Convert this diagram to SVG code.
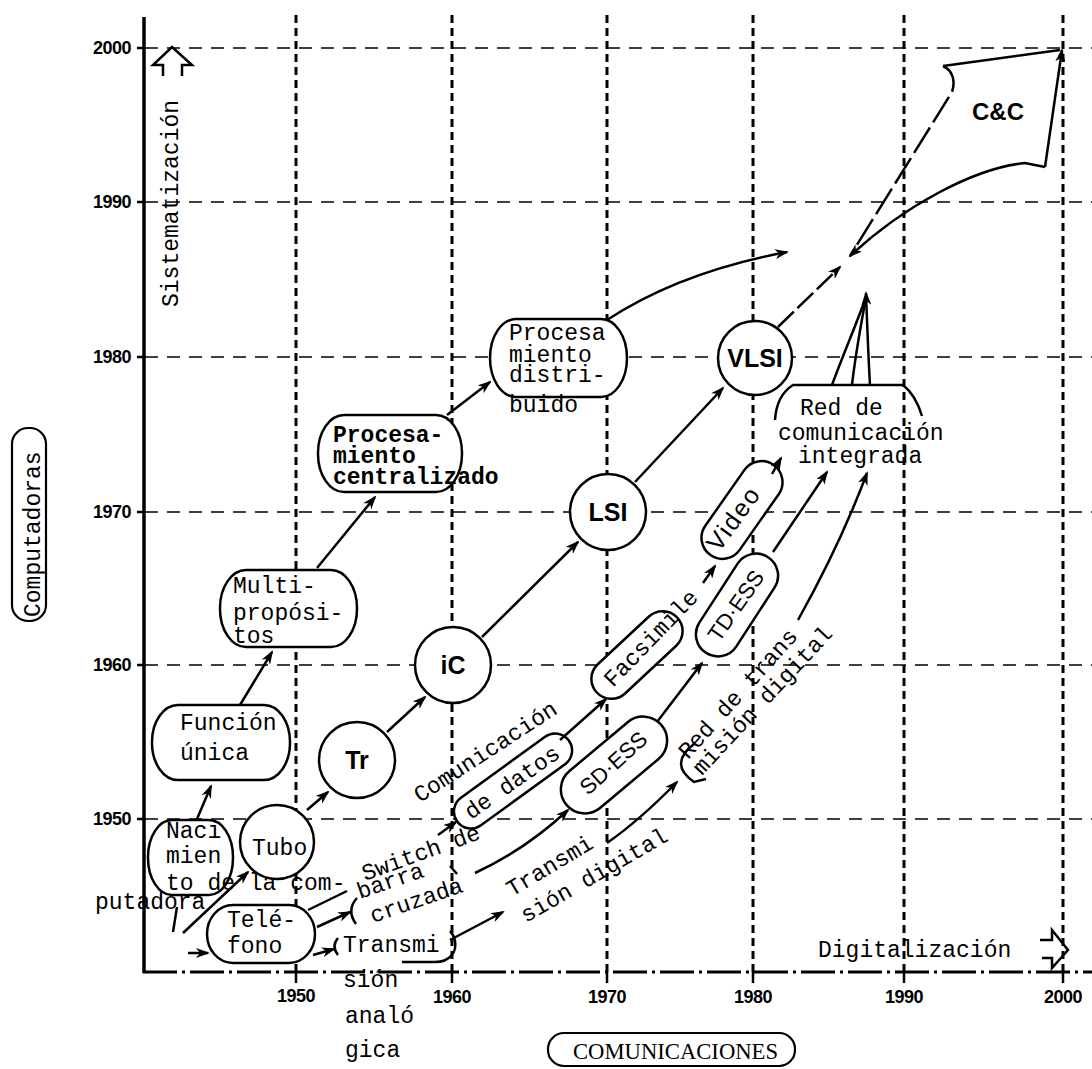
<svg xmlns="http://www.w3.org/2000/svg" width="1092" height="1069" viewBox="0 0 1092 1069">
<defs>
<style>
.gv{stroke:#000;stroke-width:3;stroke-dasharray:8 5;fill:none}
.gh{stroke:#000;stroke-width:1.6;stroke-dasharray:13 9;fill:none}
.node{fill:#fff;stroke:#000;stroke-width:2.5}
.ln{fill:none;stroke:#000;stroke-width:2.5}
.arr{marker-end:url(#ah)}
.tw{font-family:'Liberation Mono','Courier New',monospace;font-size:23px;fill:#000}
.sn{font-family:'Liberation Sans',Arial,sans-serif;fill:#000}
.ax{font-family:'Liberation Sans',Arial,sans-serif;font-size:18px;font-weight:bold;letter-spacing:-0.5px;fill:#000}
.big{font-family:'Liberation Sans',Arial,sans-serif;font-size:25px;font-weight:bold;text-anchor:middle;fill:#000}
</style>
<marker id="ah" viewBox="0 0 14 10" refX="12" refY="5" markerWidth="14" markerHeight="10" markerUnits="userSpaceOnUse" orient="auto"><path d="M0,0 L14,5 L0,10 L4,5 z" fill="#000"/></marker>
</defs>
<rect width="1092" height="1069" fill="#fff"/>

<g id="grid">
<line class="gv" x1="296" y1="15" x2="296" y2="972"/>
<line class="gv" x1="452" y1="15" x2="452" y2="972"/>
<line class="gv" x1="607" y1="15" x2="607" y2="972"/>
<line class="gv" x1="753" y1="15" x2="753" y2="972"/>
<line class="gv" x1="904" y1="15" x2="904" y2="972"/>
<line class="gv" x1="1063" y1="15" x2="1063" y2="972"/>
<line class="gh" x1="145" y1="48" x2="1092" y2="48"/>
<line class="gh" x1="145" y1="202" x2="1092" y2="202"/>
<line class="gh" x1="145" y1="357" x2="1092" y2="357"/>
<line class="gh" x1="145" y1="512" x2="1092" y2="512"/>
<line class="gh" x1="145" y1="665" x2="1092" y2="665"/>
<line class="gh" x1="145" y1="819" x2="1092" y2="819"/>
</g>

<g id="axes">
<line x1="144" y1="17" x2="144" y2="973" stroke="#000" stroke-width="3.5"/>
<line x1="143" y1="972" x2="1092" y2="972" stroke="#000" stroke-width="3" stroke-dasharray="34 5 3 5"/>
<g stroke="#000" stroke-width="2.5">
<line x1="137" y1="48" x2="144" y2="48"/><line x1="137" y1="202" x2="144" y2="202"/>
<line x1="137" y1="357" x2="144" y2="357"/><line x1="137" y1="512" x2="144" y2="512"/>
<line x1="137" y1="665" x2="144" y2="665"/><line x1="137" y1="819" x2="144" y2="819"/>
<line x1="296" y1="972" x2="296" y2="983"/><line x1="452" y1="972" x2="452" y2="983"/>
<line x1="607" y1="972" x2="607" y2="983"/><line x1="753" y1="972" x2="753" y2="983"/>
<line x1="904" y1="972" x2="904" y2="983"/><line x1="1063" y1="972" x2="1063" y2="983"/>
</g>
<g class="ax" text-anchor="end">
<text x="131" y="54">2000</text><text x="131" y="208">1990</text><text x="131" y="363">1980</text>
<text x="131" y="518">1970</text><text x="131" y="671">1960</text><text x="131" y="825">1950</text>
</g>
<g class="ax" text-anchor="middle">
<text x="296" y="1002">1950</text><text x="452" y="1003">1960</text><text x="607" y="1003">1970</text>
<text x="753" y="1003">1980</text><text x="904" y="1003">1990</text><text x="1063" y="1003">2000</text>
</g>
<text class="tw" font-size="24" transform="translate(178,307) rotate(-90)">Sistematización</text>
<path class="ln" d="M163,76 L163,65 L153,65 L172,47 L192,65 L182,65 L182,76"/>
<rect x="12" y="428" width="34" height="193" rx="16" fill="none" stroke="#000" stroke-width="2.2"/>
<text class="tw" font-size="25" transform="translate(40,617) rotate(-90)">Computadoras</text>
<text class="tw" font-size="24" x="818" y="957">Digitalización</text>
<path class="ln" d="M1040,940 L1052,940 L1052,930 L1068,950 L1052,968 L1052,958 L1042,958"/>
<rect x="548" y="1033" width="247" height="33" rx="16" fill="none" stroke="#000" stroke-width="2.2"/>
<text x="573" y="1059" font-family="'Liberation Serif','Times New Roman',serif" font-size="23" textLength="205" lengthAdjust="spacingAndGlyphs">COMUNICACIONES</text>
</g>

<g id="n-nacimiento">
<rect class="node" x="148" y="820" width="85" height="75" rx="24" ry="37"/>
<text class="tw" x="166" y="838">Naci</text>
<text class="tw" x="166" y="863">mien</text>
<text class="tw" x="166" y="890">to de la com-</text>
<text class="tw" x="95" y="909">putadora</text>
</g>
<g id="n-funcion">
<rect class="node" x="152" y="705" width="138" height="75" rx="26" ry="37"/>
<text class="tw" x="180" y="730">Función</text>
<text class="tw" x="180" y="760">única</text>
</g>
<g id="n-multi">
<rect class="node" x="220" y="570" width="137" height="77" rx="26" ry="38"/>
<text class="tw" x="233" y="593">Multi-</text>
<text class="tw" x="233" y="620">propósi-</text>
<text class="tw" x="233" y="643">tos</text>
</g>
<g id="n-centralizado">
<rect class="node" x="318" y="415" width="144" height="77" rx="26" ry="38"/>
<text class="tw" font-size="24" font-weight="bold" x="333" y="442">Procesa-</text>
<text class="tw" font-size="24" font-weight="bold" x="333" y="463">miento</text>
<text class="tw" font-size="24" font-weight="bold" x="333" y="484">centralizado</text>
</g>
<g id="n-distribuido">
<rect class="node" x="490" y="319" width="137" height="78" rx="26" ry="39"/>
<text class="tw" x="509" y="340">Procesa</text>
<text class="tw" x="509" y="362">miento</text>
<text class="tw" x="509" y="382">distri-</text>
<text class="tw" x="509" y="412">buido</text>
</g>
<g id="n-tubo">
<circle class="node" cx="277" cy="842" r="37"/>
<text class="tw" x="252" y="855">Tubo</text>
</g>
<g id="n-tr">
<circle class="node" cx="357" cy="760" r="38"/>
<text class="big" x="357" y="769">Tr</text>
</g>
<g id="n-ic">
<circle class="node" cx="453" cy="665" r="38"/>
<text class="big" x="453" y="674">iC</text>
</g>
<g id="n-lsi">
<circle class="node" cx="608" cy="512" r="38"/>
<text class="big" x="608" y="521">LSI</text>
</g>
<g id="n-vlsi">
<circle class="node" cx="755" cy="358" r="37"/>
<text class="big" x="755" y="367">VLSI</text>
</g>
<g id="n-cc">
<path class="ln" stroke-width="1.6" d="M943,66 L1060,50"/>
<path class="ln" stroke-dasharray="30 6" d="M943,66 C952,70 956,80 952,92 L850,256"/>
<path class="ln arr" d="M1045,167 L1025,163 C975,168 905,205 850,256"/>
<path class="ln arr" d="M1045,167 L1062,50"/>
<text x="972" y="120" font-family="'Liberation Sans',Arial,sans-serif" font-size="24" font-weight="bold">C&amp;C</text>
</g>
<g id="n-telefono">
<rect class="node" x="207" y="905" width="108" height="58" rx="26" ry="29"/>
<text class="tw" x="227" y="927">Telé-</text>
<text class="tw" x="227" y="953">fono</text>
</g>
<g id="n-tanalogica">
<path class="ln" d="M338,938 Q331,946 338,955"/>
<path class="ln" d="M402,962 L435,962 C450,962 457,952 455,941 C454,936 452,933 450,931"/>
<text class="tw" x="343" y="952">Transmi</text>
<text class="tw" x="343" y="987">sión</text>
<text class="tw" x="345" y="1023">analó</text>
<text class="tw" x="345" y="1057">gica</text>
</g>
<g id="n-switch">
<path class="ln" d="M357,898 Q346,910 356,924"/>
<line class="ln" x1="450" y1="866" x2="457" y2="874"/>
<text class="tw" transform="translate(365,881) rotate(-20)">Switch de</text>
<text class="tw" transform="translate(360,899) rotate(-19)">barra</text>
<text class="tw" transform="translate(373,923) rotate(-19)">cruzada</text>
</g>
<g id="n-comdatos">
<rect class="node" x="-69" y="-17" width="138" height="34" rx="17" transform="translate(513,781) rotate(-36)"/>
<text class="tw" transform="translate(420,803) rotate(-33)">Comunicación</text>
<text class="tw" transform="translate(471,820) rotate(-35)">de datos</text>
</g>
<g id="n-sdess">
<rect class="node" x="-62" y="-24" width="124" height="48" rx="24" transform="translate(614,765) rotate(-40)"/>
<text class="sn" font-size="22" transform="translate(588,796) rotate(-42)">SD·ESS</text>
</g>
<g id="n-facsimile">
<rect class="node" x="-55" y="-20" width="110" height="40" rx="20" transform="translate(637,655) rotate(-43)"/>
<text class="tw" transform="translate(613,688) rotate(-46)">Facsimile</text>
</g>
<g id="n-video">
<rect class="node" x="-55" y="-21" width="110" height="42" rx="21" transform="translate(742,510) rotate(-55)"/>
<text class="sn" font-size="25" letter-spacing="2" transform="translate(719,553) rotate(-54)">Video</text>
</g>
<g id="n-tdess">
<rect class="node" x="-57" y="-22" width="114" height="44" rx="22" transform="translate(737,605) rotate(-57)"/>
<text class="sn" font-size="22" transform="translate(719,643) rotate(-55)">TD·ESS</text>
</g>
<g id="n-redtrans">
<path class="ln" d="M694,744 Q668,764 694,782 L706,779"/>
<text class="tw" transform="translate(688,760) rotate(-48)">Red de trans</text>
<text class="tw" transform="translate(702,776) rotate(-47)">misión digital</text>
</g>
<g id="n-tdigital">
<text class="tw" transform="translate(512,897) rotate(-31)">Transmi</text>
<text class="tw" transform="translate(526,923) rotate(-30)">sión digital</text>
</g>
<g id="n-redcom">
<path class="ln" d="M775,420 C776,403 782,392 793,385 L903,385 C912,392 918,403 922,416"/>
<text class="tw" x="800" y="415">Red de</text>
<text class="tw" x="778" y="440">comunicación</text>
<text class="tw" x="798" y="463">integrada</text>
</g>

<g id="connectors">
<line class="ln arr" x1="197" y1="819" x2="211" y2="786"/>
<line class="ln arr" x1="240" y1="705" x2="272" y2="652"/>
<line class="ln arr" x1="317" y1="568" x2="375" y2="497"/>
<line class="ln arr" x1="447" y1="415" x2="490" y2="382"/>
<path class="ln arr" d="M607,320 Q680,272 787,252"/>
<line class="ln arr" x1="307" y1="810" x2="328" y2="792"/>
<line class="ln arr" x1="387" y1="732" x2="425" y2="697"/>
<line class="ln arr" x1="482" y1="637" x2="578" y2="542"/>
<line class="ln arr" x1="635" y1="482" x2="723" y2="388"/>
<line class="ln arr" stroke-dasharray="22 5" x1="778" y1="327" x2="840" y2="267"/>
<path class="ln" d="M832,385 C845,350 858,320 866,297"/>
<path class="ln" d="M852,385 C856,350 862,320 866,297"/>
<path class="ln arr" d="M870,385 C868,350 867,320 866,293"/>
<line class="ln arr" x1="188" y1="953" x2="208" y2="953"/>
<line class="ln arr" x1="183" y1="933" x2="248" y2="872"/>
<line class="ln" x1="173" y1="932" x2="177" y2="907"/>
<line class="ln" x1="308" y1="910" x2="347" y2="891"/>
<line class="ln arr" x1="317" y1="927" x2="350" y2="912"/>
<line class="ln arr" x1="313" y1="955" x2="334" y2="949"/>
<line class="ln arr" x1="438" y1="835" x2="456" y2="822"/>
<path class="ln arr" d="M475,873 Q525,850 568,810"/>
<line class="ln arr" x1="560" y1="740" x2="606" y2="699"/>
<line class="ln arr" x1="703" y1="583" x2="715" y2="566"/>
<line class="ln arr" x1="772" y1="474" x2="781" y2="458"/>
<line class="ln arr" x1="773" y1="552" x2="827" y2="472"/>
<line class="ln arr" x1="657" y1="722" x2="702" y2="663"/>
<line class="ln arr" x1="450" y1="940" x2="503" y2="912"/>
<path class="ln arr" d="M607,843 Q640,820 677,782"/>
<path class="ln arr" d="M798,620 Q840,545 867,473"/>
</g>
</svg>
